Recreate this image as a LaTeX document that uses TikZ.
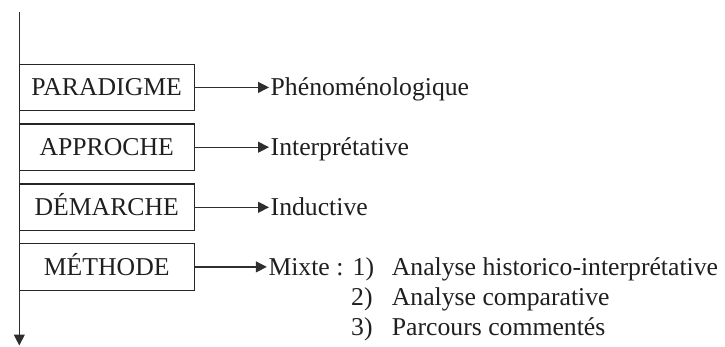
\documentclass[tikz,border=0pt]{standalone}
\usepackage{fontspec}
\setmainfont{Liberation Serif}
\usetikzlibrary{arrows.meta}
\begin{document}
\begin{tikzpicture}[x=1pt,y=-1pt,
  every node/.style={font=\fontsize{25.7}{30}\selectfont, text=black!88},
  level/.style={draw=black!85, line width=1.2pt, minimum width=175pt,
    minimum height=46.5pt, inner sep=0pt, text height=17pt, text depth=0pt},
  link/.style={draw=black!82, line width=1.25pt, shorten >=1.5pt,
    -{Triangle[length=11pt,width=11pt]}},
  lbl/.style={anchor=base west, inner sep=0pt}]
\useasboundingbox (0,0) rectangle (725,346);

% main vertical axis
\coordinate (top) at (19.3,12);
\coordinate (bottom) at (19.3,347);
\draw[link] (top) -- (bottom);

% levels of the research design
\node[level] (par) at (106.7,87.4) {PARADIGME};
\node[level] (app) at (106.7,147.2) {APPROCHE};
\node[level] (dem) at (106.7,207.3) {DÉMARCHE};
\node[level] (met) at (106.7,266.9) {MÉTHODE};

% choices for each level
\node[lbl] (phe) at (270.5,95.6) {Phénoménologique};
\node[lbl] (int) at (270.5,155.4) {Interprétative};
\node[lbl] (ind) at (270.5,215.5) {Inductive};
\node[lbl] (mix) at (268.3,275.1) {Mixte :};

\draw[link] (par.east) -- (phe.west |- par.east);
\draw[link] (app.east) -- (int.west |- app.east);
\draw[link] (dem.east) -- (ind.west |- dem.east);
\draw[link] (met.east) -- (mix.west |- met.east);

% list of methods
\node[lbl] (n1) at (352.5,275.1) {1)};
\node[lbl] (m1) at (391.7,275.1) {Analyse historico-interprétative};
\node[lbl] (n2) at (351,305.4) {2)};
\node[lbl] (m2) at (391.7,305.4) {Analyse comparative};
\node[lbl] (n3) at (351,335.6) {3)};
\node[lbl] (m3) at (391.7,335.6) {Parcours commentés};
\end{tikzpicture}
\end{document}
